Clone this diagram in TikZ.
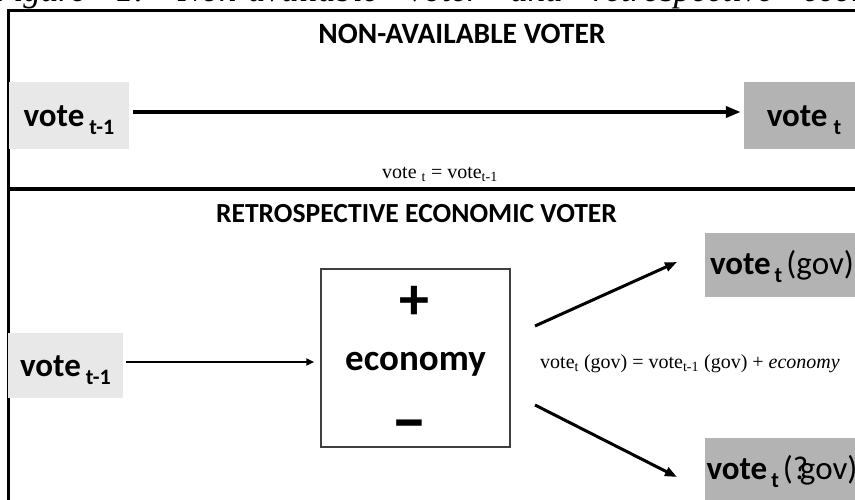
\documentclass[tikz,border=0pt]{standalone}
\usepackage{fontspec}
\setmainfont{Liberation Serif}
\newfontfamily\calibri{Carlito}
\usetikzlibrary{arrows.meta, positioning}

\definecolor{lightbox}{HTML}{E8E8E8}
\definecolor{darkbox}{HTML}{B3B3B3}

% subscript of the bold vote labels: gap, then lowered small text
\newcommand{\votesub}[2]{\hspace{#1}{\fontsize{22}{22}\selectfont\raisebox{-8pt}{#2}}}

\tikzset{
  votebox/.style={rectangle, inner sep=0pt, text depth=0pt,
    font=\calibri\bfseries\fontsize{33}{33}\selectfont},
  paneltitle/.style={anchor=base, inner sep=0pt,
    font=\calibri\bfseries\fontsize{28}{28}\selectfont},
  formula/.style={inner sep=0pt, font=\fontsize{20}{20}\selectfont},
  signtext/.style={inner sep=0pt, font=\calibri\bfseries\fontsize{60}{60}\selectfont},
  bigarrow/.style={line width=4pt, -{Triangle[length=15pt,width=11pt]}},
  midarrow/.style={line width=3pt, -{Triangle[length=12pt,width=9pt]}},
  thinarrow/.style={line width=2pt, -{Triangle[length=8pt,width=7pt]}}
}

\begin{document}
\begin{tikzpicture}[x=1pt, y=-1pt]
    \useasboundingbox (0,0) rectangle (855,499);
    \clip (0,0) rectangle (855,499);

    % Caption, cut off by the top edge
    \node[anchor=base west, inner sep=0pt, font=\itshape\fontsize{35}{35}\selectfont] (caption) at (-8,1.5)
      {\spaceskip=30pt Figure 1: Non-available voter and retrospective economic voter};

    % Frame and divider
    \draw[line width=3pt] (8,505) -- (8,10) -- (860,10);
    \draw[line width=4pt] (8,189) -- (860,189);

    % Upper panel: vote carried over
    \node[paneltitle, font=\calibri\bfseries\fontsize{29.5}{29.5}\selectfont] (toptitle) at (462,43) {NON-AVAILABLE VOTER};
    \node[votebox, fill=lightbox, minimum width=120pt, minimum height=67pt, text height=23pt] (prevtop) at (69,115)
      {vote\votesub{5pt}{t-1}};
    \node[votebox, fill=darkbox, minimum width=120pt, minimum height=67pt, text height=23pt] (curtop) at (804,115)
      {vote\votesub{6pt}{t}};
    \draw[bigarrow, shorten <=4pt, shorten >=3pt] ([yshift=3pt]prevtop.east) -- ([yshift=3pt]curtop.west);
    \node[formula, anchor=base] (ruletop) at (440,178) {vote \textsubscript{t} = vote\textsubscript{t-1}};

    % Lower panel: economy moves the vote
    \node[paneltitle, font=\calibri\bfseries\fontsize{27.6}{27.6}\selectfont] (bottitle) at (416.5,222) {RETROSPECTIVE ECONOMIC VOTER};
    \node[votebox, fill=lightbox, minimum width=115pt, minimum height=65pt, text height=21pt] (prevbot) at (65.5,365.5)
      {vote\votesub{5pt}{t-1}};
    \node[draw=black!75, line width=1.5pt, minimum width=189pt, minimum height=178pt, inner sep=0pt,
      text height=24pt, text depth=0pt, font=\calibri\bfseries\fontsize{37}{37}\selectfont] (econ) at (415.5,358) {economy};
    \node[signtext] (plus) at (414,303) {+};
    \node[signtext, anchor=base, font=\calibri\bfseries\fontsize{72}{72}\selectfont] (minus) at (409,443) {–};
    \draw[thinarrow, shorten <=3pt, shorten >=6pt] ([yshift=3.5pt]prevbot.east) -- ([yshift=3.5pt]prevbot.east -| econ.west);

    % Two outcomes
    \node[votebox, fill=darkbox, minimum width=154pt, minimum height=64pt, text height=18pt] (govup) at (782,265)
      {vote\votesub{4pt}{t}\hspace{4pt}{\mdseries(gov)}};
    \node[votebox, fill=darkbox, minimum width=154pt, minimum height=64pt, text height=18pt] (govdown) at (782,470)
      {vote\votesub{4pt}{t}\hspace{4pt}{\mdseries(?\kern-.25em gov)}};
    \coordinate (upfrom) at (535,326);
    \coordinate (upto) at (677,262);
    \coordinate (downfrom) at (535,405);
    \coordinate (downto) at (677,477);
    \draw[midarrow] (upfrom) -- (upto);
    \draw[midarrow] (downfrom) -- (downto);
    \node[formula, anchor=base west] (rulebot) at (540,368)
      {vote\textsubscript{t} (gov) = vote\textsubscript{t-1} (gov) + \textit{economy}};
\end{tikzpicture}
\end{document}
